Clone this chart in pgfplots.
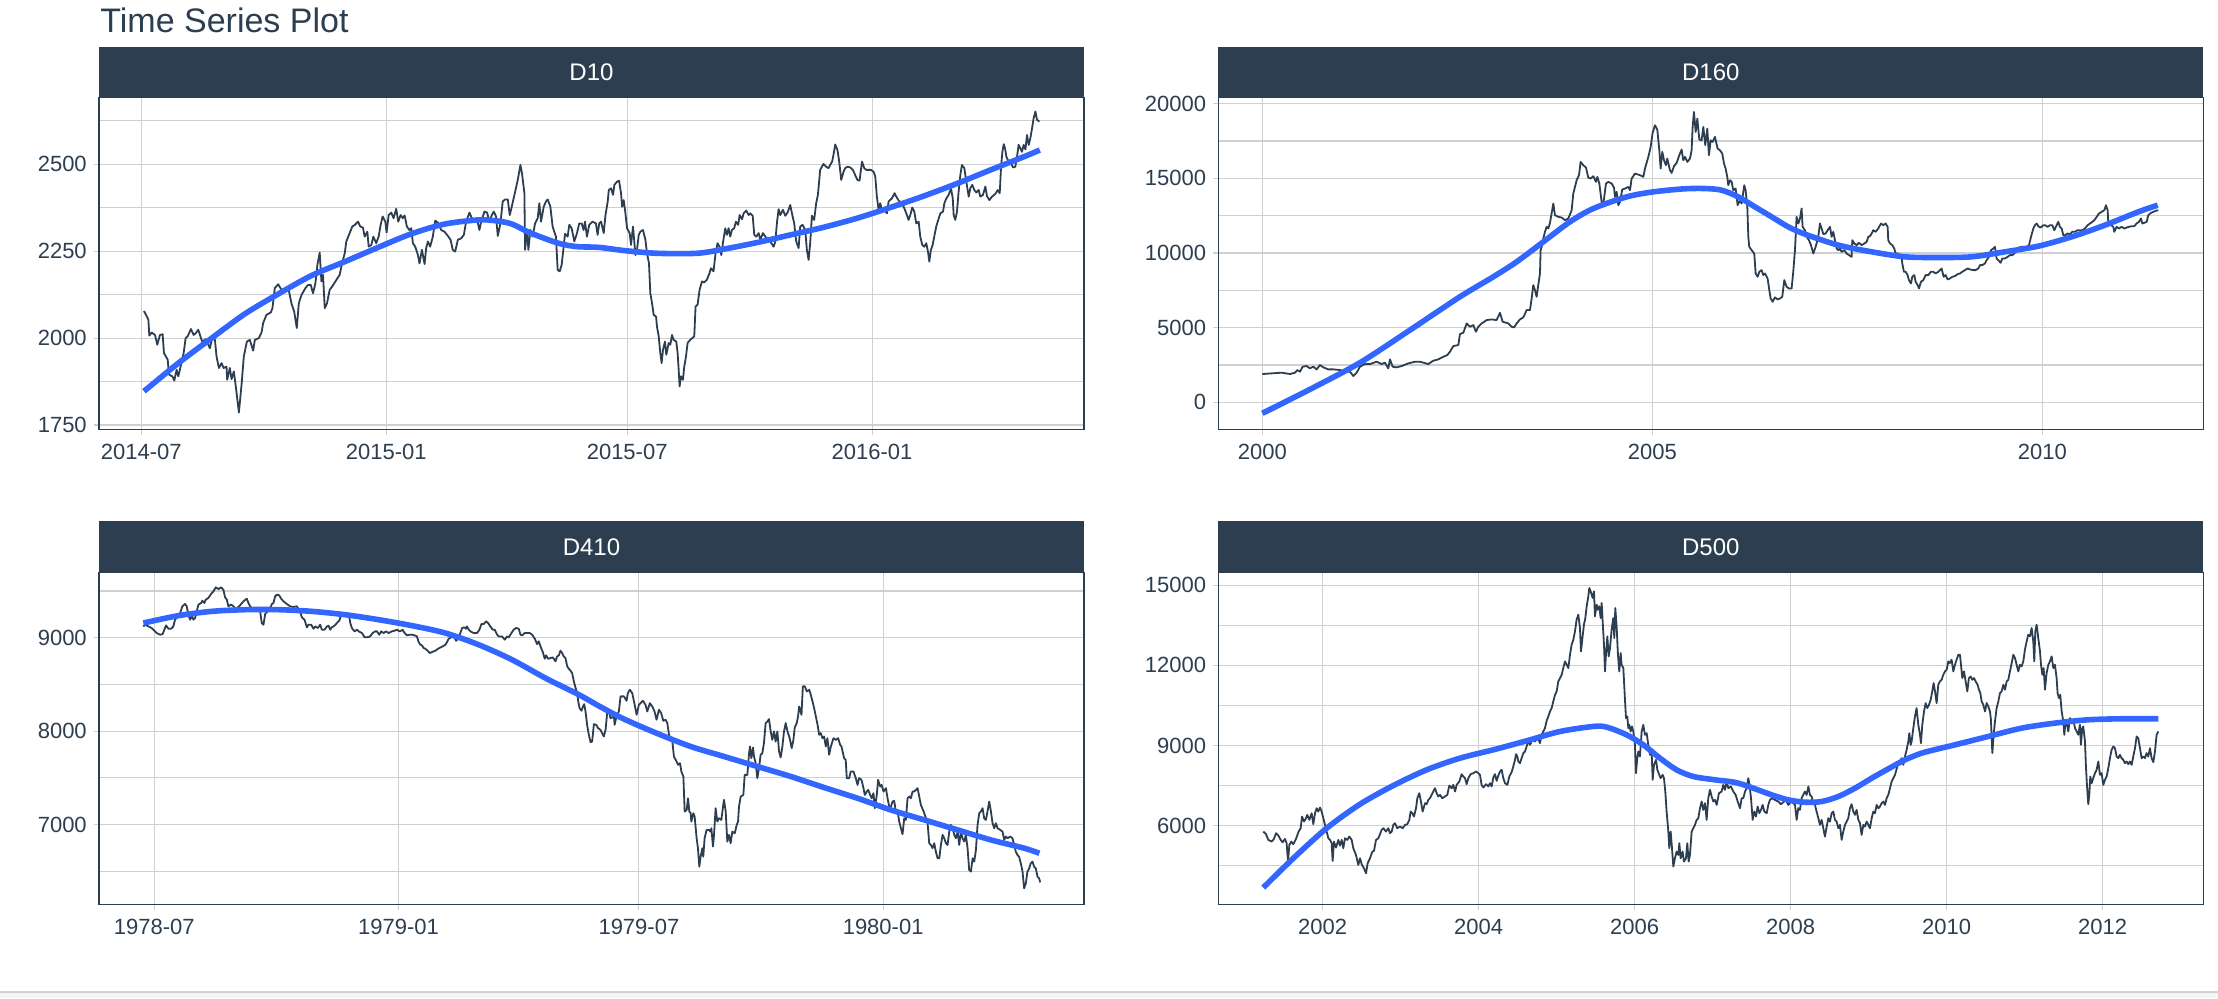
\documentclass[border=0pt]{standalone}
\usepackage{pgfplots}
\pgfplotsset{compat=1.18}
\usepackage{fontspec}
\setmainfont{Liberation Sans}
\definecolor{tqdark}{HTML}{2C3E50}
\definecolor{tqblue}{HTML}{3366FF}
\definecolor{tqgrid}{HTML}{D0D0D0}
\pgfplotsset{
  panel/.style={
    scale only axis, width=492.5pt, height=166pt, anchor=south west,
    axis line style={draw=tqdark, line width=0.6pt},
    xmajorgrids, ymajorgrids, yminorgrids,
    grid style={draw=tqgrid, line width=0.55pt},
    minor grid style={draw=tqgrid, line width=0.55pt},
    tick align=outside, major tick length=2.6pt, minor tick length=0pt,
    tick style={draw=tqgrid, line width=0.55pt},
    xtick pos=left, ytick pos=left,
    tick label style={font=\fontsize{11}{13}\selectfont, text=tqdark},
    xticklabel style={yshift=-1.5pt},
    /pgf/number format/assume math mode=true,
    /pgf/number format/1000 sep={},
    scaled ticks=false,
  },
  raw/.style={draw=tqdark, line width=0.9pt, line join=round, mark=none},
  fit/.style={draw=tqblue, line width=2.8pt, smooth, tension=0.5, mark=none},
}
\begin{document}
\begin{tikzpicture}
\useasboundingbox (0,0) rectangle (1109pt,499pt);
% bottom bar
\fill[black!4] (0,0) rectangle (1109pt,3pt);
\draw[black!18, line width=0.8pt] (0,3pt) -- (1109pt,3pt);
\node[anchor=base west, font=\fontsize{17}{20}\selectfont, text=tqdark, inner sep=0pt] at (50pt,482.5pt) {Time Series Plot};

%================ D10
\begin{axis}[panel, name=d10, at={(49.5pt,284.35pt)},
  xmin=-31.8, xmax=708.2, ymin=1737.6, ymax=2692.8,
  xtick={0,184,365,549}, xticklabels={2014-07,2015-01,2015-07,2016-01},
  ytick={1750,2000,2250,2500}, minor ytick={1875,2125,2375,2625}]
\addplot[raw] table {
2 2078
5.3 2053
6 2007
7.8 2016
10.3 2009
12 1981
14 2009
16 2011
17 1957
19.8 1938
20.8 1895
23.3 1890
24.8 1878
26.5 1909
27.8 1890
29.8 1923
31.8 1957
33.3 2000
34.8 2005
37.3 2026
39.3 2009
40.8 2014
42.8 2024
44.8 2000
45.8 1990
48.5 1997
51.5 1971
53.3 2000
55.3 1995
56.5 1947
58.3 1914
60.3 1928
61.8 1914
64 1918
64.5 1880
66.5 1914
67.8 1882
69.5 1904
70.8 1866
73.3 1786
75.3 1866
77 1947
79.3 1990
81.5 1995
84 1964
85.3 1995
88.3 2000
90.3 2016
91.5 2043
94 2067
97.3 2074
98.5 2086
100.3 2144
102.8 2155
105.3 2139
107.8 2141
110.8 2137
112.8 2100
114.8 2077
116.8 2029
118.3 2100
120.3 2124
123.3 2144
125.3 2153
127.3 2153
129 2129
130.8 2158
132.3 2211
134 2246
135.3 2163
136.5 2182
137.8 2086
139.5 2100
141.5 2139
143.3 2148
145.3 2160
149 2182
150.8 2215
152.8 2244
154 2278
156.5 2302
158.5 2321
160.5 2326
162.8 2335
164.5 2321
166.5 2318
167.8 2292
169.8 2306
170.8 2263
172.8 2268
174.3 2292
176.5 2273
178.3 2292
179.8 2326
181.3 2350
183.3 2335
184.3 2304
185.8 2354
187.8 2361
189.5 2345
191.5 2372
193 2335
194.8 2354
196.5 2345
197.8 2353
199.5 2321
201.3 2311
202.8 2316
204 2273
205.8 2263
207.8 2239
209 2215
210.8 2254
212.8 2213
214 2259
215.3 2278
217 2263
219 2292
220.8 2338
222.8 2332
225.3 2311
227.8 2306
230.3 2294
232.3 2283
234 2254
235.8 2249
237.8 2283
240.3 2287
242.3 2297
244 2335
246.5 2361
248.3 2345
250.3 2335
252.3 2340
254 2311
255.3 2335
257.8 2364
259.8 2361
261.5 2335
263.3 2354
264.8 2364
266.5 2350
267.8 2294
269.8 2330
271.5 2393
273.3 2399
275.3 2399
276.8 2354
278.3 2378
280.3 2412
282.8 2455
284.8 2498
286 2474
287.8 2417
288.3 2254
289.8 2311
290.8 2254
292.3 2311
294 2292
295.8 2330
297.8 2345
299 2388
300.3 2335
302.3 2378
304 2393
305.3 2399
307.3 2378
309 2321
311.5 2292
312.8 2196
314.3 2192
315.8 2211
317.3 2263
318.3 2300
320.3 2292
321.5 2326
323.3 2316
325.3 2278
327.3 2302
329 2330
330.8 2330
332.3 2311
333.3 2335
334.8 2292
336.5 2326
339 2335
341.5 2330
342.8 2297
344 2330
345.4 2335
347.4 2302
348.7 2354
350.4 2393
351.2 2426
352.9 2431
354.4 2412
355.4 2441
357.4 2450
358.9 2453
360.4 2417
361.2 2378
362.4 2397
363.7 2359
364.9 2316
366.9 2302
367.9 2268
369.4 2321
371.2 2239
372.4 2254
373.7 2297
374.9 2306
376.9 2311
378.7 2283
379.9 2244
381.4 2215
382.4 2129
383.7 2100
384.9 2067
386.7 2062
387.4 2033
388.7 2005
389.9 1957
390.9 1928
391.9 1966
393.4 1990
394.4 1952
396.2 1986
397.4 1981
398.7 2009
399.9 1995
401.9 1990
402.9 1957
403.7 1909
404.4 1861
405.4 1890
406.9 1880
407.9 1918
409.2 1947
410.4 1986
412.4 1995
413.9 2000
415.4 2005
416.4 2091
417.9 2096
419.4 2139
421.2 2163
422.9 2160
424.9 2168
426.9 2187
427.9 2201
429.9 2192
431.4 2244
432.9 2273
434.4 2263
435.7 2239
436.9 2273
438.7 2316
439.9 2297
441.2 2316
442.4 2292
443.7 2311
445.4 2316
446.7 2335
448.4 2326
449.5 2354
451.3 2342
452.5 2359
454.5 2367
456.3 2354
457.5 2359
459.3 2352
460.5 2297
462 2292
463.8 2302
465 2283
467 2302
468.8 2292
470 2287
472.5 2278
475 2263
476.3 2278
477.6 2335
478.8 2371
480 2354
482 2369
483.8 2352
485.5 2361
487.5 2383
488.8 2359
490.5 2330
492 2278
493.8 2259
495 2321
496.8 2326
498.8 2311
500 2254
501.3 2225
502.5 2273
503.8 2352
505.5 2340
507 2388
508.3 2412
510 2484
512.5 2501
514.5 2493
516.3 2489
517.5 2498
519 2508
520 2527
521.3 2557
523 2541
524.3 2508
525.8 2455
527.6 2479
528.8 2489
530.5 2493
532.6 2491
534.6 2484
536.3 2469
538 2455
539.6 2453
541.4 2508
543.1 2489
544.6 2484
548.1 2484
550.1 2479
551.4 2465
552.6 2407
553.9 2369
555.1 2388
556.4 2369
558.1 2369
560.2 2359
561.4 2393
563.9 2402
565.9 2417
567.2 2407
568.9 2396
570.7 2390
572.7 2378
573.9 2367
575.2 2354
576.4 2340
577.7 2354
579.2 2376
580.7 2364
582.2 2330
584 2335
585.2 2292
586.7 2268
588.2 2263
589.7 2273
591 2249
592 2220
593.2 2254
594.5 2268
595.7 2292
597.2 2321
598.7 2340
600.3 2359
602.3 2364
603.3 2388
604.8 2402
606.5 2412
608.3 2431
609.6 2402
610.3 2354
611.5 2340
612.8 2364
614 2421
615.3 2469
616.5 2498
618.3 2489
619.8 2450
621.6 2407
622.8 2431
624.3 2441
625.8 2426
627.3 2419
629.1 2426
630.3 2407
632.3 2412
634.1 2436
635.3 2409
637.1 2397
639.1 2407
641.6 2415
643.4 2426
644.9 2417
645.9 2493
646.9 2536
647.9 2558
648.9 2546
649.9 2522
651.6 2508
653.4 2503
654.9 2491
656.6 2493
657.9 2522
659.1 2556
660.4 2546
661.6 2536
662.9 2556
664.2 2543
665.4 2584
666.7 2556
667.9 2575
669.2 2604
670.4 2633
671.7 2652
672.9 2628
674.7 2623
};
\addplot[fit] table {
2 1847
27.8 1928
52.9 2000
77.9 2070
102.9 2127
127.9 2180
152.9 2220
177.9 2261
202.8 2300
227.8 2328
252.8 2340
265.3 2338
277.8 2329
290.3 2306
302.8 2287
315.3 2271
327.8 2263
344 2261
362.4 2252
387.4 2244
417.5 2244
437.6 2256
462.7 2275
487.7 2297
512.8 2319
537.8 2345
562.9 2376
588 2409
613 2445
638.1 2484
663.2 2522
675 2541
};
\end{axis}
\fill[tqdark] ([yshift=-0.4pt]d10.north west) rectangle ([yshift=25pt]d10.north east);
\node[text=white, font=\fontsize{12}{14}\selectfont] at ([yshift=12.5pt]d10.north) {D10};

%================ D160
\begin{axis}[panel, name=d160, at={(609.15pt,284.35pt)},
  xmin=1999.436, xmax=2012.064, ymin=-1805, ymax=20426,
  xtick={2000,2005,2010}, xticklabels={2000,2005,2010},
  ytick={0,5000,10000,15000,20000}, minor ytick={2500,7500,12500,17500}]
\addplot[raw] table {
2000.000 1896
2000.120 1940
2000.248 1985
2000.355 1896
2000.419 1985
2000.449 2163
2000.483 2052
2000.517 2386
2000.568 2431
2000.611 2275
2000.654 2386
2000.697 2208
2000.739 2498
2000.782 2342
2000.846 2208
2000.910 2208
2000.996 2163
2001.081 2052
2001.124 2052
2001.167 1762
2001.209 1985
2001.252 2386
2001.316 2565
2001.380 2565
2001.466 2721
2001.530 2565
2001.573 2654
2001.615 2275
2001.637 2877
2001.671 2386
2001.722 2342
2001.786 2431
2001.872 2609
2001.957 2721
2002.021 2721
2002.128 2565
2002.192 2788
2002.256 2877
2002.321 3055
2002.372 3167
2002.406 3390
2002.449 3769
2002.513 3836
2002.534 4572
2002.577 4661
2002.620 5285
2002.662 5062
2002.705 5174
2002.739 4728
2002.769 5062
2002.812 5285
2002.876 5508
2002.940 5553
2003.004 5508
2003.047 5999
2003.081 5397
2003.154 5285
2003.197 5062
2003.227 5018
2003.261 5285
2003.303 5553
2003.346 5687
2003.389 6177
2003.432 6177
2003.453 6958
2003.474 7850
2003.496 7515
2003.517 7069
2003.538 7850
2003.560 8630
2003.568 10191
2003.581 10414
2003.603 10972
2003.624 11418
2003.645 11752
2003.667 11641
2003.688 12020
2003.709 12644
2003.731 13313
2003.752 12533
2003.795 12421
2003.838 12377
2003.880 12198
2003.923 12310
2003.966 12867
2003.987 13982
2004.009 14428
2004.030 14874
2004.060 15209
2004.081 16101
2004.115 15878
2004.150 15722
2004.179 15053
2004.209 14986
2004.244 15142
2004.278 14763
2004.295 15097
2004.321 14651
2004.350 13425
2004.372 13269
2004.406 14651
2004.436 14763
2004.479 14651
2004.509 14384
2004.521 13759
2004.543 14094
2004.564 13202
2004.585 13425
2004.615 14250
2004.650 14317
2004.692 14428
2004.714 14205
2004.735 14986
2004.778 15320
2004.842 15209
2004.885 15097
2004.906 15655
2004.949 16435
2004.979 17104
2005.004 18041
2005.034 18554
2005.064 18264
2005.090 16881
2005.107 15655
2005.128 16770
2005.150 16212
2005.175 15878
2005.192 16324
2005.226 15543
2005.248 15365
2005.278 15811
2005.312 16034
2005.346 16547
2005.376 16926
2005.397 16212
2005.419 16435
2005.449 16101
2005.483 16324
2005.504 16881
2005.517 18442
2005.534 19446
2005.556 18108
2005.577 19000
2005.603 17595
2005.632 17550
2005.654 18442
2005.679 17216
2005.705 18331
2005.726 16547
2005.748 17550
2005.774 17439
2005.803 17773
2005.837 16993
2005.867 16881
2005.897 16658
2005.919 15989
2005.940 15655
2005.961 15097
2005.974 14540
2005.996 14874
2006.017 14763
2006.038 14205
2006.068 14317
2006.094 13202
2006.124 13536
2006.145 13313
2006.179 14540
2006.196 14205
2006.218 13090
2006.231 11083
2006.243 10414
2006.273 10191
2006.307 9968
2006.325 8630
2006.350 8407
2006.372 8742
2006.401 8853
2006.423 8519
2006.444 8630
2006.478 8296
2006.500 7515
2006.517 6958
2006.543 6735
2006.572 7025
2006.607 6891
2006.637 6958
2006.666 7069
2006.692 8184
2006.722 7738
2006.752 7627
2006.786 7627
2006.807 8742
2006.829 10191
2006.850 12421
2006.872 11975
2006.893 12310
2006.914 12979
2006.927 11752
2006.957 11529
2006.979 11083
2007.008 10860
2007.034 10526
2007.064 9968
2007.094 10414
2007.128 11083
2007.149 11975
2007.171 11641
2007.192 11262
2007.222 11306
2007.248 11529
2007.278 11752
2007.299 11083
2007.320 11418
2007.342 10860
2007.363 10303
2007.385 10191
2007.406 10303
2007.427 10080
2007.461 10191
2007.491 9968
2007.521 9857
2007.555 9745
2007.564 10860
2007.590 10637
2007.619 10526
2007.649 10682
2007.684 10526
2007.718 10637
2007.748 10749
2007.769 11083
2007.790 11128
2007.812 11306
2007.833 11529
2007.863 11418
2007.897 11641
2007.931 11975
2007.961 11864
2007.991 11975
2008.017 11752
2008.025 10860
2008.047 10637
2008.077 10526
2008.102 10303
2008.119 9968
2008.145 9968
2008.175 9857
2008.196 9745
2008.205 9299
2008.226 8742
2008.248 8742
2008.273 8519
2008.290 8184
2008.316 7961
2008.333 8407
2008.359 8519
2008.376 8073
2008.402 7850
2008.419 7627
2008.444 8073
2008.474 8184
2008.504 8519
2008.538 8519
2008.572 8742
2008.602 8742
2008.632 8630
2008.667 8742
2008.709 8965
2008.735 8407
2008.760 8519
2008.786 8229
2008.816 8296
2008.846 8407
2008.880 8452
2008.914 8586
2008.944 8630
2008.974 8742
2009.008 8853
2009.043 8965
2009.073 8898
2009.115 8853
2009.145 8853
2009.179 8965
2009.201 9188
2009.231 9188
2009.265 9299
2009.286 9522
2009.316 9745
2009.342 10191
2009.372 10303
2009.393 10414
2009.414 9634
2009.436 9522
2009.466 9344
2009.487 9634
2009.521 9634
2009.555 9745
2009.585 9857
2009.615 9857
2009.641 9968
2009.671 10236
2009.701 10370
2009.735 10414
2009.769 10414
2009.799 10414
2009.829 10526
2009.855 11083
2009.885 11641
2009.906 11864
2009.927 11975
2009.949 11797
2009.970 11708
2009.991 11752
2010.013 11864
2010.034 11864
2010.068 11752
2010.098 11864
2010.128 11864
2010.154 11529
2010.184 11864
2010.205 12087
2010.226 11752
2010.248 11641
2010.269 11195
2010.291 11195
2010.325 11306
2010.355 11262
2010.385 11418
2010.419 11418
2010.453 11529
2010.483 11529
2010.513 11529
2010.547 11641
2010.581 11864
2010.611 11975
2010.641 12087
2010.667 12198
2010.697 12421
2010.726 12644
2010.761 12756
2010.795 12867
2010.816 13202
2010.829 12979
2010.838 12867
2010.846 11975
2010.880 11864
2010.910 11752
2010.923 11418
2010.953 11752
2010.983 11641
2011.017 11752
2011.051 11641
2011.081 11708
2011.111 11752
2011.145 11797
2011.179 11797
2011.209 11975
2011.239 12087
2011.265 12310
2011.282 11975
2011.307 12020
2011.337 12087
2011.359 12533
2011.393 12689
2011.423 12756
2011.453 12823
2011.487 12867
};
\addplot[fit] table {
2000.000 -736
2000.611 870
2001.252 2654
2001.893 4839
2002.534 7069
2002.962 8407
2003.261 9411
2003.603 10749
2003.944 12087
2004.244 12979
2004.671 13759
2005.013 14094
2005.397 14294
2005.675 14317
2005.889 14205
2006.102 13759
2006.316 13090
2006.530 12421
2006.743 11752
2006.957 11262
2007.385 10526
2007.812 10080
2008.239 9745
2008.667 9700
2009.094 9745
2009.521 10080
2009.949 10459
2010.376 11083
2010.803 11864
2011.231 12756
2011.479 13202
};
\end{axis}
\fill[tqdark] ([yshift=-0.4pt]d160.north west) rectangle ([yshift=25pt]d160.north east);
\node[text=white, font=\fontsize{12}{14}\selectfont] at ([yshift=12.5pt]d160.north) {D160};

%================ D410
\begin{axis}[panel, name=d410, at={(49.5pt,46.85pt)},
  xmin=-41.7, xmax=700.3, ymin=6147, ymax=9700,
  xtick={0,184,365,549}, xticklabels={1978-07,1979-01,1979-07,1980-01},
  ytick={7000,8000,9000}, minor ytick={6500,7500,8500,9500}]
\addplot[raw] table {
-8.3 9121
-7.0 9139
-4.5 9121
-2.0 9104
0.0 9075
1.8 9050
4.3 9032
6.3 9039
7.5 9086
8.8 9132
10.6 9096
12.6 9096
14.3 9121
15.6 9193
17.6 9229
19.4 9264
21.1 9336
23.1 9361
24.4 9336
25.6 9246
26.9 9193
28.2 9239
29.4 9193
30.7 9211
31.9 9282
33.2 9354
35.2 9371
36.2 9396
37.7 9371
38.7 9407
40.7 9425
42.7 9468
44.5 9496
46.3 9539
48.3 9521
50.3 9539
52.0 9514
53.3 9432
54.6 9407
55.8 9336
57.6 9354
59.1 9343
60.8 9318
62.1 9318
63.9 9336
65.4 9361
67.1 9389
69.6 9418
70.9 9371
72.1 9336
73.4 9318
74.7 9311
77.2 9300
79.7 9282
80.9 9157
82.2 9139
83.5 9254
85.5 9282
87.2 9307
88.5 9361
89.7 9371
91.0 9443
92.3 9461
94.0 9454
95.5 9418
97.3 9389
99.8 9361
102.3 9336
104.8 9329
107.3 9336
109.8 9282
111.1 9218
113.1 9193
114.9 9111
116.1 9139
118.2 9139
119.9 9096
121.2 9121
123.2 9104
124.9 9139
126.2 9086
128.2 9086
130.0 9121
131.2 9129
132.5 9086
133.7 9111
135.7 9129
137.5 9157
139.3 9182
140.8 9246
142.5 9254
144.3 9246
145.8 9229
146.8 9229
147.6 9157
148.8 9104
150.8 9068
152.6 9086
153.9 9068
156.4 9050
158.4 9004
160.1 9004
162.6 9014
164.4 9050
166.4 9068
167.7 9068
169.4 9032
170.9 9068
172.7 9050
174.5 9068
176.5 9050
179.0 9068
181.0 9075
182.8 9086
184.5 9068
186.0 9075
187.0 9086
188.5 9050
190.3 9025
192.1 9032
194.1 9032
196.1 9025
197.8 9014
199.1 8954
200.4 8925
201.6 8918
202.9 8889
204.1 8882
205.9 8861
207.4 8836
209.2 8847
211.7 8861
213.7 8882
215.5 8896
217.2 8907
219.2 8925
220.5 8954
221.7 8989
223.7 9004
225.5 9014
227.3 8968
228.8 8989
230.5 9050
231.8 9104
233.5 9111
234.8 9096
235.5 9121
236.8 9086
238.1 9068
240.6 9050
243.1 9050
244.9 9086
246.4 9146
248.1 9146
249.9 9175
251.4 9157
253.1 9121
254.9 9086
256.4 9086
258.2 9032
259.4 9014
261.9 9014
264.0 8979
265.7 9014
267.0 9004
269.0 9050
270.7 9086
272.5 9104
274.5 9096
275.8 9032
277.0 9025
279.0 9050
280.8 9050
282.8 9050
284.6 9032
286.6 8989
288.3 8932
289.6 8961
290.9 8907
292.6 8847
294.1 8775
295.1 8811
296.6 8775
298.4 8782
300.2 8789
302.2 8747
303.4 8800
304.7 8811
305.9 8861
307.2 8836
308.4 8800
309.7 8782
311.0 8693
312.2 8668
313.5 8647
314.7 8622
316.0 8532
317.2 8468
318.5 8407
319.3 8318
320.3 8247
321.8 8218
322.8 8264
323.8 8289
324.8 8211
326.0 8068
327.3 7961
328.6 7882
329.8 7889
331.1 8075
332.8 8068
334.3 8032
336.1 8014
338.6 7943
339.9 8014
341.1 8193
342.4 8211
343.6 8139
346.2 8157
346.7 8068
348.2 8157
349.9 8211
351.2 8372
353.7 8372
355.7 8325
356.7 8407
358.2 8443
360.0 8407
361.3 8318
363.3 8175
365.0 8282
366.3 8300
368.0 8325
370.0 8282
371.3 8211
373.3 8300
375.1 8264
376.8 8211
378.3 8122
380.1 8229
381.8 8193
383.4 8111
385.2 8122
386.4 8086
387.7 7961
388.9 7925
390.2 7889
391.4 7729
393.4 7675
394.5 7640
396.0 7657
397.0 7568
398.5 7515
399.5 7140
401.0 7157
402.0 7282
403.0 7140
404.0 7122
404.5 7032
406.0 7122
407.0 7086
408.5 6854
409.5 6747
410.5 6550
411.5 6657
412.8 6747
413.5 6657
414.5 6854
416.0 6943
417.8 6943
419.0 6925
419.6 6961
420.8 6765
421.6 6890
422.8 7175
424.1 7032
425.3 7068
427.1 7050
428.4 7193
429.1 7265
430.4 7140
431.6 6818
432.9 6890
434.1 6800
435.4 6925
437.2 6907
438.7 6997
439.7 7032
440.4 7193
441.7 7300
443.7 7318
444.7 7532
446.7 7532
448.0 7764
448.7 7836
449.7 7711
451.0 7825
451.7 7729
453.0 7657
454.2 7497
455.5 7604
456.7 7747
458.0 7764
459.2 7872
460.5 8086
461.8 8104
463.0 8129
464.3 7997
465.5 7907
466.8 7997
468.0 7889
469.3 7997
470.6 7782
471.8 7718
473.1 7836
474.3 7997
475.6 8086
476.8 8004
478.6 7925
480.1 7818
481.4 7907
482.4 8039
483.9 8086
484.9 8157
485.7 8264
487.5 8175
488.5 8479
490.0 8479
491.5 8425
493.3 8443
494.5 8389
495.8 8318
497.0 8247
498.3 8157
499.6 8068
500.8 7961
502.0 7979
503.3 7925
504.5 7943
505.8 7836
507.0 7925
508.3 7747
509.6 7836
511.6 7925
513.3 7907
515.1 7925
516.6 7854
517.6 7836
519.6 7711
520.8 7693
521.6 7497
523.4 7497
524.6 7568
526.6 7568
528.4 7497
529.7 7425
530.9 7497
532.7 7479
534.2 7390
535.2 7318
536.7 7354
537.7 7372
539.2 7318
540.4 7282
541.7 7336
542.7 7175
544.2 7318
545.2 7479
546.8 7407
547.8 7425
549.3 7354
551.1 7390
552.3 7282
553.6 7193
554.8 7193
556.1 7247
557.3 7254
558.6 7140
559.9 7140
561.1 7032
562.4 6961
563.6 6897
564.9 7068
566.1 7050
567.4 7282
568.7 7300
569.9 7282
571.2 7354
572.4 7354
573.7 7372
574.9 7390
576.2 7300
577.4 7211
579.5 7140
581.2 7068
582.5 7015
583.7 6800
585.0 6782
586.2 6747
587.5 6800
588.7 6711
590.0 6640
591.3 6640
592.5 6782
593.8 6890
595.0 6854
596.3 6800
597.5 6782
598.8 6925
600.0 6997
601.3 6961
602.6 6890
603.8 6854
605.1 6925
606.3 6782
607.6 6925
608.8 6854
610.1 6818
611.3 6890
612.6 6747
613.8 6515
615.1 6497
616.4 6640
617.6 6604
618.9 6729
620.1 6997
621.4 7122
622.6 7140
623.9 7175
625.1 7068
626.4 7050
627.6 7140
628.9 7247
630.2 7140
631.4 7015
632.7 6961
633.9 7015
635.2 6961
637.2 6943
638.9 6925
640.2 6836
641.4 6872
642.7 6854
644.7 6872
646.4 6854
647.7 6782
648.9 6711
650.2 6675
651.4 6657
652.7 6586
654.0 6497
655.2 6318
656.5 6372
657.7 6497
659.0 6532
660.2 6586
661.5 6604
662.7 6550
664.0 6532
665.3 6443
666.5 6425
667.3 6382
};
\addplot[fit] table {
-8.3 9157
18.1 9236
43.2 9282
68.4 9300
93.5 9300
118.7 9282
143.8 9246
168.9 9193
194.1 9129
219.2 9050
244.3 8925
269.5 8764
294.6 8568
319.8 8390
336.1 8260
353.7 8130
378.9 7975
404.0 7836
429.1 7729
454.2 7622
479.4 7515
504.5 7397
529.7 7282
554.8 7157
580.0 7050
605.1 6943
630.2 6836
655.4 6747
666.7 6693
};
\end{axis}
\fill[tqdark] ([yshift=-0.4pt]d410.north west) rectangle ([yshift=25.5pt]d410.north east);
\node[text=white, font=\fontsize{12}{14}\selectfont] at ([yshift=12.75pt]d410.north) {D410};

%================ D500
\begin{axis}[panel, name=d500, at={(609.15pt,46.85pt)},
  xmin=2000.662, xmax=2013.291, ymin=3050, ymax=15488,
  xtick={2002,2004,2006,2008,2010,2012}, xticklabels={2002,2004,2006,2008,2010,2012},
  ytick={6000,9000,12000,15000}, minor ytick={4500,7500,10500,13500}]
\addplot[raw] table {
2001.239 5775
2001.274 5675
2001.303 5463
2001.346 5400
2001.376 5500
2001.402 5713
2001.432 5625
2001.462 5463
2001.487 5375
2001.517 5500
2001.538 5338
2001.556 4650
2001.573 5275
2001.598 5400
2001.624 5300
2001.658 5500
2001.692 5775
2001.718 5900
2001.735 6338
2001.761 6150
2001.786 6275
2001.803 6400
2001.829 6213
2001.859 6463
2001.880 6050
2001.902 6463
2001.923 6650
2001.944 6525
2001.966 6675
2001.987 6525
2002.009 6275
2002.030 6025
2002.051 5775
2002.073 5525
2002.094 5463
2002.115 5338
2002.128 4675
2002.145 5400
2002.171 5175
2002.201 5463
2002.222 5250
2002.244 5463
2002.265 5150
2002.286 5525
2002.316 5463
2002.342 5588
2002.372 5463
2002.393 5150
2002.427 4900
2002.457 4525
2002.479 4775
2002.500 4550
2002.530 4400
2002.556 4213
2002.577 4588
2002.607 4775
2002.637 5025
2002.658 5050
2002.684 5463
2002.714 5525
2002.735 5675
2002.756 5838
2002.778 5900
2002.812 5775
2002.842 5900
2002.863 5713
2002.885 5775
2002.906 6025
2002.927 6088
2002.957 5900
2002.991 5963
2003.026 5900
2003.056 6025
2003.085 6050
2003.111 6213
2003.128 6525
2003.150 6463
2003.171 6338
2003.197 6650
2003.214 7025
2003.239 7213
2003.256 6963
2003.282 6525
2003.312 6838
2003.333 6800
2003.355 6963
2003.376 7025
2003.397 7150
2003.419 7275
2003.440 7400
2003.462 7213
2003.483 7088
2003.504 7150
2003.534 7025
2003.568 7088
2003.598 7150
2003.624 7500
2003.654 7400
2003.675 7525
2003.697 7275
2003.718 7525
2003.752 7650
2003.782 7925
2003.803 7838
2003.825 7775
2003.846 7550
2003.868 7775
2003.897 7925
2003.932 7963
2003.966 8025
2003.996 7963
2004.017 7900
2004.038 7525
2004.060 7425
2004.094 7550
2004.124 7463
2004.145 7588
2004.167 7463
2004.188 7800
2004.209 7925
2004.231 7675
2004.252 7875
2004.274 8025
2004.295 8088
2004.316 7775
2004.338 7588
2004.368 7525
2004.393 7838
2004.423 8000
2004.444 8213
2004.466 8463
2004.479 8675
2004.496 8588
2004.509 8400
2004.530 8338
2004.551 8525
2004.573 8713
2004.594 8775
2004.615 8963
2004.637 9175
2004.658 9025
2004.679 9150
2004.701 9275
2004.722 9150
2004.744 9213
2004.765 9250
2004.786 9088
2004.808 9400
2004.829 9525
2004.850 9650
2004.872 9925
2004.893 10088
2004.915 10275
2004.936 10400
2004.957 10650
2004.979 10900
2005.000 11025
2005.021 11400
2005.043 11525
2005.064 11650
2005.085 11900
2005.107 12150
2005.128 12025
2005.150 11900
2005.171 12400
2005.192 12775
2005.214 12963
2005.235 13275
2005.256 13713
2005.278 13900
2005.299 13400
2005.312 12525
2005.333 13088
2005.350 13525
2005.368 13775
2005.385 14213
2005.406 14588
2005.419 14900
2005.436 14775
2005.462 14525
2005.479 14775
2005.491 13838
2005.513 14275
2005.526 14088
2005.547 14213
2005.564 13775
2005.577 14338
2005.590 13650
2005.607 12775
2005.620 11775
2005.632 12400
2005.650 13088
2005.667 12338
2005.684 12650
2005.705 13338
2005.726 13775
2005.739 13025
2005.752 14150
2005.769 13463
2005.786 12400
2005.803 11775
2005.821 12463
2005.833 12025
2005.855 11900
2005.876 10713
2005.889 10025
2005.906 10088
2005.919 9650
2005.932 9775
2005.949 9525
2005.966 9713
2005.983 9525
2006.004 9025
2006.017 7963
2006.034 8525
2006.047 8775
2006.068 8588
2006.090 9525
2006.111 9775
2006.132 9400
2006.154 9463
2006.175 9025
2006.197 8650
2006.218 8775
2006.231 7713
2006.248 8275
2006.274 8463
2006.291 8088
2006.316 7900
2006.333 7775
2006.359 7900
2006.376 7775
2006.393 7275
2006.410 6525
2006.432 5775
2006.444 5150
2006.462 5775
2006.479 5150
2006.496 4463
2006.517 4775
2006.538 5025
2006.560 4900
2006.573 5338
2006.590 4775
2006.615 5025
2006.632 4650
2006.658 4775
2006.675 5338
2006.692 4650
2006.709 4900
2006.731 5775
2006.752 5900
2006.773 6025
2006.795 6213
2006.816 6275
2006.838 6650
2006.859 6900
2006.880 6588
2006.902 6838
2006.923 6213
2006.944 7025
2006.966 7338
2006.987 7088
2007.009 6900
2007.030 6963
2007.052 6775
2007.081 7213
2007.115 7275
2007.137 7525
2007.158 7338
2007.180 7650
2007.201 7400
2007.235 7463
2007.265 7275
2007.295 7150
2007.321 6900
2007.351 6650
2007.372 7025
2007.393 7025
2007.415 7275
2007.436 7400
2007.457 7775
2007.470 7588
2007.492 7025
2007.513 6213
2007.534 6525
2007.556 6338
2007.577 6713
2007.599 6463
2007.620 6588
2007.641 6775
2007.663 6525
2007.693 6463
2007.714 6775
2007.735 6963
2007.757 7025
2007.799 6963
2007.842 6900
2007.876 6800
2007.906 6875
2007.936 6963
2007.970 6775
2008.004 6900
2008.034 6838
2008.056 6775
2008.077 6213
2008.098 6650
2008.120 6588
2008.141 7025
2008.162 7150
2008.184 7275
2008.205 7150
2008.227 7463
2008.248 7150
2008.269 7088
2008.291 6838
2008.312 6775
2008.333 6525
2008.355 6275
2008.376 6025
2008.397 6213
2008.419 5900
2008.440 5588
2008.462 5963
2008.483 6275
2008.504 6150
2008.526 6463
2008.547 6525
2008.568 6213
2008.590 6150
2008.611 5900
2008.632 6025
2008.654 5463
2008.675 5775
2008.697 6025
2008.718 6150
2008.739 6275
2008.761 6650
2008.782 6800
2008.803 6525
2008.825 6400
2008.846 6588
2008.868 6213
2008.889 6088
2008.910 5650
2008.932 6025
2008.953 5963
2008.975 6150
2008.996 6025
2009.017 5900
2009.039 6275
2009.060 6525
2009.081 6463
2009.103 6775
2009.124 6650
2009.145 6713
2009.167 6838
2009.188 6900
2009.210 6775
2009.231 7025
2009.252 7150
2009.274 7400
2009.295 7650
2009.316 7775
2009.338 7900
2009.359 8125
2009.381 8338
2009.402 8400
2009.423 8525
2009.445 8275
2009.466 8588
2009.487 8838
2009.509 9150
2009.522 9463
2009.539 9025
2009.551 9150
2009.573 9650
2009.594 10088
2009.615 10400
2009.637 9775
2009.658 9400
2009.671 9088
2009.688 9775
2009.710 10275
2009.731 10588
2009.752 10400
2009.774 10525
2009.795 10713
2009.816 11025
2009.833 11338
2009.851 11025
2009.872 10588
2009.893 11275
2009.915 11400
2009.936 11463
2009.957 11650
2009.979 11775
2010.000 11838
2010.022 12150
2010.043 12088
2010.064 12213
2010.086 11775
2010.107 12025
2010.128 12213
2010.150 12400
2010.171 12400
2010.184 12025
2010.201 11525
2010.222 11775
2010.244 11400
2010.265 11025
2010.286 11525
2010.308 11588
2010.329 11463
2010.351 11525
2010.372 11400
2010.397 11275
2010.415 11088
2010.432 10963
2010.449 10650
2010.470 10525
2010.492 10275
2010.513 10588
2010.534 10463
2010.556 10275
2010.568 9963
2010.586 8713
2010.603 9400
2010.620 9900
2010.641 10400
2010.663 10650
2010.684 10963
2010.705 11025
2010.727 11275
2010.748 11088
2010.770 11400
2010.791 11463
2010.812 11775
2010.834 12088
2010.855 12400
2010.876 12275
2010.898 12025
2010.919 11775
2010.940 12025
2010.962 11963
2010.983 12150
2011.004 12588
2011.026 12900
2011.047 13150
2011.069 13088
2011.090 13400
2011.111 12900
2011.124 12150
2011.137 13275
2011.154 13525
2011.175 13025
2011.197 12525
2011.210 12025
2011.227 11650
2011.244 11900
2011.261 11088
2011.282 11713
2011.304 12025
2011.325 12150
2011.346 12338
2011.368 11900
2011.389 12025
2011.410 11525
2011.423 10963
2011.440 10775
2011.457 10900
2011.475 10275
2011.496 9900
2011.509 9400
2011.526 9963
2011.543 9775
2011.560 9525
2011.581 10025
2011.603 9900
2011.624 9963
2011.646 9650
2011.667 9525
2011.688 9400
2011.709 9775
2011.722 9025
2011.739 9650
2011.752 9713
2011.774 9150
2011.786 8213
2011.799 7525
2011.816 6800
2011.829 7150
2011.842 7838
2011.859 7588
2011.880 7775
2011.902 7963
2011.923 8088
2011.945 8400
2011.966 7900
2011.987 7963
2012.009 7525
2012.030 7713
2012.051 7838
2012.073 8150
2012.094 8525
2012.115 8838
2012.137 8963
2012.158 8900
2012.180 8588
2012.201 8525
2012.222 8650
2012.244 8525
2012.265 8463
2012.286 8338
2012.308 8400
2012.329 8300
2012.351 8400
2012.372 8275
2012.393 8588
2012.415 8900
2012.436 9338
2012.457 9275
2012.479 8900
2012.500 8525
2012.522 8588
2012.543 8525
2012.564 8713
2012.586 8588
2012.607 8900
2012.628 8525
2012.650 8375
2012.671 8775
2012.692 9400
2012.714 9525
};
\addplot[fit] table {
2001.239 3675
2001.624 4775
2002.051 5900
2002.479 6800
2002.906 7500
2003.333 8088
2003.761 8525
2004.188 8838
2004.615 9175
2005.043 9525
2005.470 9713
2005.641 9688
2005.897 9400
2006.111 9025
2006.325 8525
2006.538 8088
2006.752 7838
2007.030 7713
2007.329 7588
2007.757 7150
2007.970 6963
2008.184 6875
2008.397 6900
2008.611 7088
2008.825 7400
2009.039 7775
2009.252 8125
2009.466 8463
2009.680 8713
2009.893 8875
2010.107 9025
2010.534 9338
2010.962 9650
2011.389 9838
2011.816 9963
2012.244 10000
2012.714 10000
};
\end{axis}
\fill[tqdark] ([yshift=-0.4pt]d500.north west) rectangle ([yshift=25.5pt]d500.north east);
\node[text=white, font=\fontsize{12}{14}\selectfont] at ([yshift=12.75pt]d500.north) {D500};
\end{tikzpicture}
\end{document}
